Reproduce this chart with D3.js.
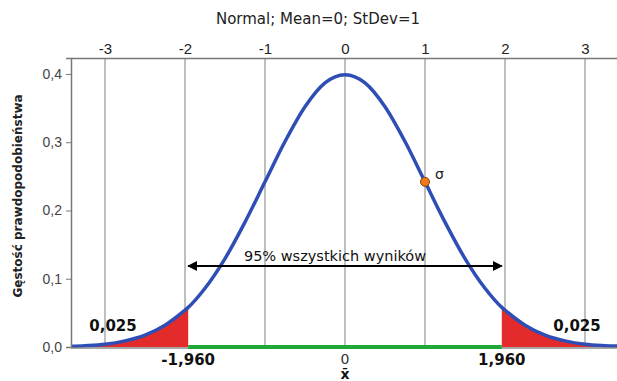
<!DOCTYPE html>
<html>
<head>
<meta charset="utf-8">
<script src="https://cdn.jsdelivr.net/npm/d3@7"></script>
<style>
  body { margin: 0; background: #fff; }
  svg { display: block; font-family: "DejaVu Sans", Verdana, sans-serif; }
</style>
</head>
<body>
<div id="chart"></div>
<script>
// wartosci
const xTicks = [-3, -2, -1, 0, 1, 2, 3];
const yTicks = [0, 0.1, 0.2, 0.3, 0.4];
const curveX = [-3.5, -3.25, -3, -2.75, -2.5, -2.25, -2, -1.96, -1.75, -1.5, -1.25, -1, -0.75, -0.5, -0.25, 0,
                0.25, 0.5, 0.75, 1, 1.25, 1.5, 1.75, 1.96, 2, 2.25, 2.5, 2.75, 3, 3.25, 3.5];
const curveY = [0.001, 0.002, 0.004, 0.009, 0.0175, 0.032, 0.054, 0.058, 0.086, 0.1295, 0.183, 0.242, 0.301, 0.352, 0.387, 0.399,
                0.387, 0.352, 0.301, 0.242, 0.183, 0.1295, 0.086, 0.058, 0.054, 0.032, 0.0175, 0.009, 0.004, 0.002, 0.001];
const critical = [-1.96, 1.96];
const criticalLabels = ["-1,960", "1,960"];
const tailLabels = ["0,025", "0,025"];
const sigmaPoint = { x: 1, y: 0.242 };

const width = 617, height = 381;
const margin = { top: 58, right: 0, bottom: 34, left: 71 };

const svg = d3.select("#chart").append("svg")
  .attr("width", width)
  .attr("height", height);

const x = d3.scaleLinear().domain([-3.425, 3.425]).range([margin.left, 619]);
const y = d3.scaleLinear().domain([0, 0.4234]).range([height - margin.bottom, margin.top]);

const fmt = d3.format(".1f");
const comma = v => fmt(v).replace(".", ",");

const pts = curveX.map((v, i) => ({ x: v, y: curveY[i] }));

svg.append("defs").append("clipPath").attr("id", "plot")
  .append("rect")
  .attr("x", margin.left).attr("y", margin.top)
  .attr("width", width - margin.left).attr("height", y(0) - margin.top + 2);

// siatka
svg.append("g").selectAll("line").data(xTicks).join("line")
  .attr("x1", d => x(d)).attr("x2", d => x(d))
  .attr("y1", margin.top).attr("y2", y(0))
  .attr("stroke", "#aaa").attr("stroke-width", 1.5);

const plot = svg.append("g").attr("clip-path", "url(#plot)");

// ogony
const area = d3.area().x(d => x(d.x)).y0(y(0)).y1(d => y(d.y)).curve(d3.curveMonotoneX);
plot.append("path")
  .datum(pts.filter(d => d.x <= critical[0]))
  .attr("d", area).attr("fill", "#e32b2b");
plot.append("path")
  .datum(pts.filter(d => d.x >= critical[1]))
  .attr("d", area).attr("fill", "#e32b2b");

// osie
svg.append("g")
  .attr("transform", `translate(0,${margin.top})`)
  .call(d3.axisTop(x).tickValues(xTicks).tickSize(0).tickPadding(4).tickFormat(d => String(d)))
  .call(g => g.select(".domain").attr("stroke", "#777").attr("stroke-width", 1.5))
  .call(g => g.selectAll("text").attr("font-size", 15).attr("fill", "#222"));

svg.append("g")
  .attr("transform", `translate(${margin.left},0)`)
  .call(d3.axisLeft(y).tickValues(yTicks).tickSize(5).tickPadding(4).tickFormat(comma))
  .call(g => g.select(".domain").attr("stroke", "#777").attr("stroke-width", 1.5))
  .call(g => g.selectAll("line").attr("stroke", "#777"))
  .call(g => g.selectAll("text").attr("font-size", 14).attr("fill", "#444"));

svg.append("line")
  .attr("x1", margin.left).attr("x2", width)
  .attr("y1", y(0) + 1).attr("y2", y(0) + 1)
  .attr("stroke", "#888").attr("stroke-width", 1.5);

// 95% przedzial
svg.append("line")
  .attr("x1", x(critical[0])).attr("x2", x(critical[1]))
  .attr("y1", y(0)).attr("y2", y(0))
  .attr("stroke", "#1fa83a").attr("stroke-width", 4);

// krzywa gestosci
plot.append("path")
  .datum(pts)
  .attr("d", d3.line().x(d => x(d.x)).y(d => y(d.y)).curve(d3.curveMonotoneX))
  .attr("fill", "none")
  .attr("stroke", "#2f4eb5")
  .attr("stroke-width", 3.5);

// strzalka
const arrowY = 266;
const defs = svg.select("defs");
defs.append("marker").attr("id", "ah").attr("viewBox", "0 0 10 10")
  .attr("refX", 9).attr("refY", 5).attr("markerWidth", 5).attr("markerHeight", 5)
  .attr("orient", "auto-start-reverse")
  .append("path").attr("d", "M0,0 L10,5 L0,10 z").attr("fill", "#000");
svg.append("line")
  .attr("x1", x(critical[0])).attr("x2", x(critical[1]))
  .attr("y1", arrowY).attr("y2", arrowY)
  .attr("stroke", "#000").attr("stroke-width", 2)
  .attr("marker-start", "url(#ah)").attr("marker-end", "url(#ah)");
svg.append("text")
  .attr("x", 335).attr("y", arrowY - 5)
  .attr("text-anchor", "middle").attr("font-size", 14.5).attr("fill", "#111")
  .text("95% wszystkich wyników");

// sigma
svg.append("circle")
  .attr("cx", x(sigmaPoint.x)).attr("cy", y(sigmaPoint.y)).attr("r", 4.5)
  .attr("fill", "#f07a1a").attr("stroke", "#8a3b00").attr("stroke-width", 1);
svg.append("text")
  .attr("x", x(sigmaPoint.x) + 10).attr("y", y(sigmaPoint.y) - 3)
  .attr("font-size", 14).attr("fill", "#222").text("σ");

// etykiety
svg.selectAll(".crit").data(critical).join("text")
  .attr("x", d => x(d)).attr("y", y(0) + 18)
  .attr("text-anchor", "middle").attr("font-size", 15).attr("font-weight", "bold").attr("fill", "#111")
  .text((d, i) => criticalLabels[i]);

svg.selectAll(".tail").data([-2.9, 2.9]).join("text")
  .attr("x", d => x(d)).attr("y", 331)
  .attr("text-anchor", "middle").attr("font-size", 15).attr("font-weight", "bold").attr("fill", "#111")
  .text((d, i) => tailLabels[i]);

svg.append("text")
  .attr("x", x(0)).attr("y", y(0) + 17)
  .attr("text-anchor", "middle").attr("font-size", 14).attr("fill", "#333").text("0");
svg.append("text")
  .attr("x", x(0)).attr("y", y(0) + 32)
  .attr("text-anchor", "middle").attr("font-size", 14).attr("font-weight", "bold").attr("fill", "#111").text("x̄");

svg.append("text")
  .attr("x", 318).attr("y", 24)
  .attr("text-anchor", "middle").attr("font-size", 15).attr("fill", "#222")
  .text("Normal; Mean=0; StDev=1");

svg.append("text")
  .attr("transform", `translate(22,${196}) rotate(-90)`)
  .attr("text-anchor", "middle").attr("font-size", 12).attr("font-weight", "bold").attr("fill", "#222")
  .text("Gęstość prawdopodobieństwa");
</script>
</body>
</html>
